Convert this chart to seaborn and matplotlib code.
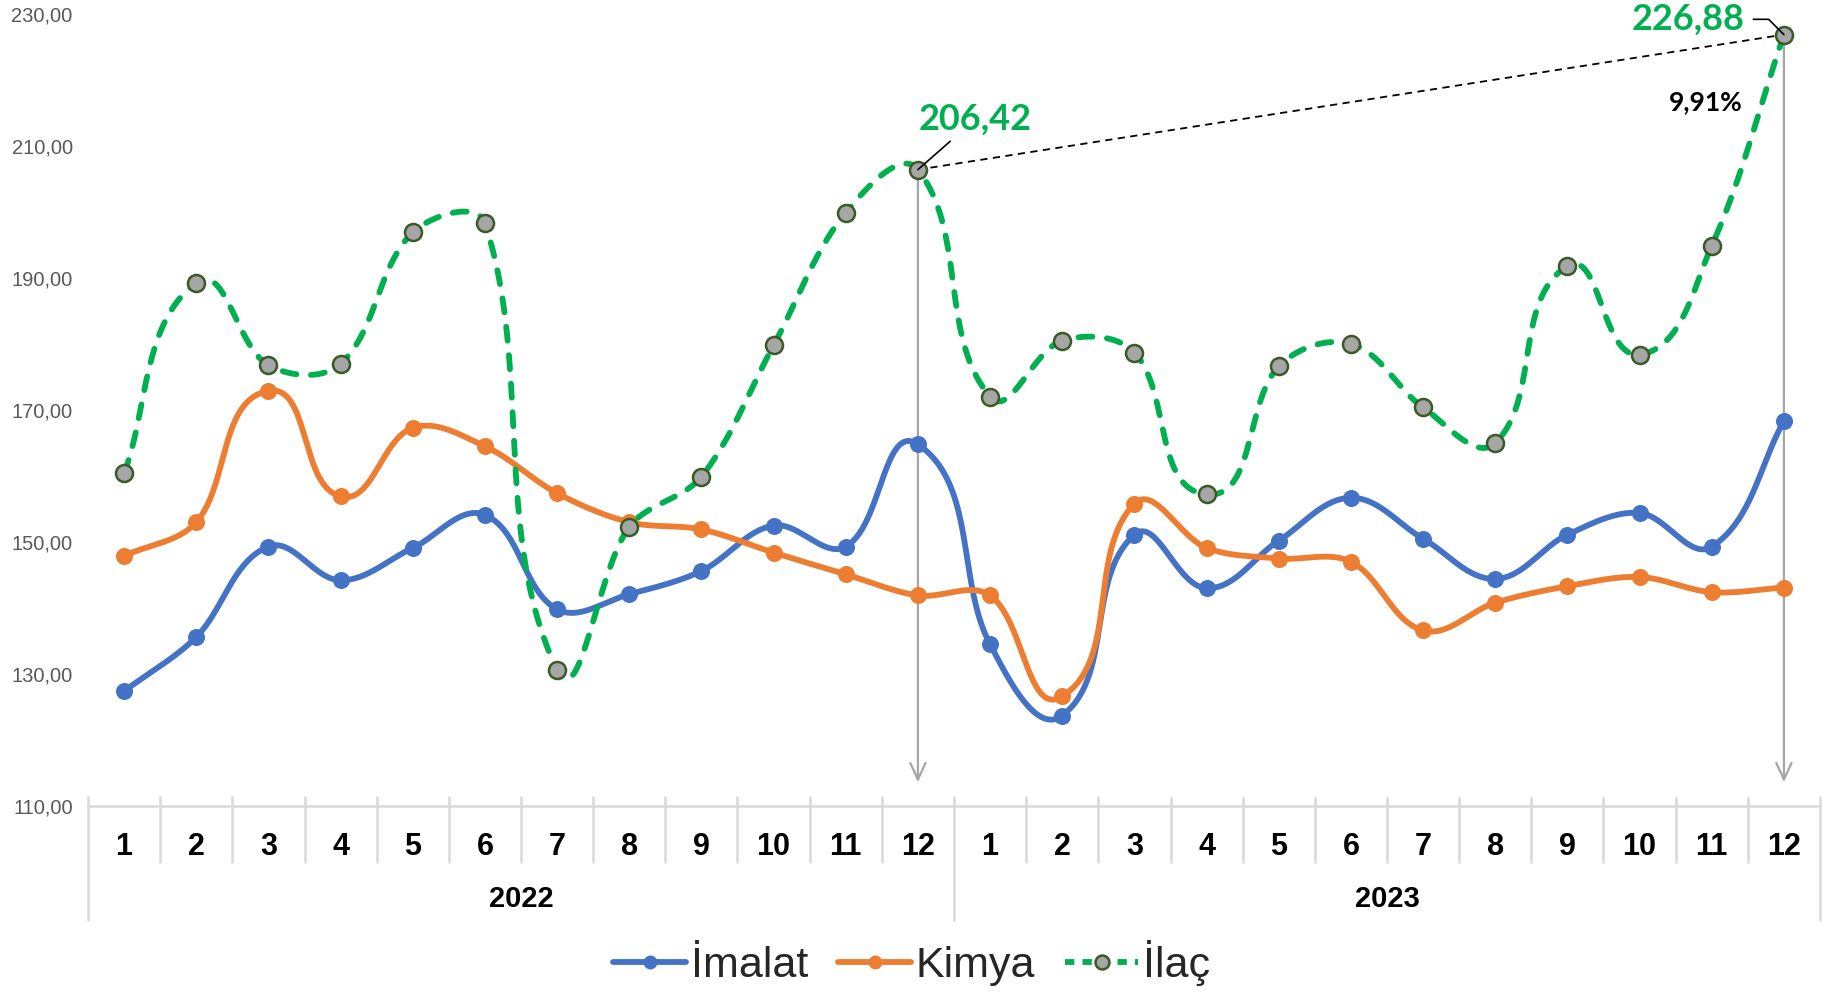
import numpy as np
import pandas as pd
import matplotlib
matplotlib.use("Agg")
import matplotlib.pyplot as plt
from matplotlib.lines import Line2D
from matplotlib.ticker import FuncFormatter
import seaborn as sns

# 2022 ve 2023 aylari
months = list(range(1, 13)) * 2
years = ["2022", "2023"]

imalat = [127.4, 135.6, 149.3, 144.2, 149.1, 154.1, 139.8, 142.1, 145.6, 152.5, 149.3, 164.8,
          134.5, 123.7, 151.1, 143.0, 150.2, 156.7, 150.5, 144.4, 151.1, 154.4, 149.3, 168.3]
kimya = [147.9, 153.0, 172.9, 156.9, 167.3, 164.5, 157.4, 153.0, 151.9, 148.4, 145.1, 141.9,
         141.9, 126.6, 155.8, 149.1, 147.5, 147.0, 136.6, 140.8, 143.3, 144.7, 142.4, 143.1]
ilac = [160.4, 189.3, 176.8, 177.0, 196.9, 198.3, 130.6, 152.3, 159.9, 179.8, 199.9, 206.42,
        172.0, 180.5, 178.7, 157.2, 176.6, 180.0, 170.4, 165.0, 191.8, 178.4, 194.9, 226.88]

series_names = ["İmalat", "Kimya", "İlaç"]
artis_label = "9,91%"

BLUE = "#4472C4"
ORANGE = "#ED7D31"
GREEN = "#00B050"
GRID = "#D9D9D9"


# Excel "duzgun cizgi" benzeri bezier egrisi (ekran olceginde)
def smooth(y, sx=72.17, sy=6.6, n=40):
    y = np.asarray(y, dtype=float)
    P = np.column_stack([np.arange(1, len(y) + 1) * sx, y * sy])
    ext = np.vstack([P[0], P, P[-1]])
    xs, ys = [], []
    t = np.linspace(0, 1, n, endpoint=False)[:, None]
    for i in range(len(y) - 1):
        p0, p1, p2, p3 = ext[i], ext[i + 1], ext[i + 2], ext[i + 3]
        seg = np.linalg.norm(p2 - p1)
        d1 = p2 - p0
        d2 = p3 - p1
        c1 = p1 + d1 / np.linalg.norm(d1) * seg / 3
        c2 = p2 - d2 / np.linalg.norm(d2) * seg / 3
        b = ((1 - t) ** 3) * p1 + 3 * ((1 - t) ** 2) * t * c1 + 3 * (1 - t) * t**2 * c2 + t**3 * p2
        xs.extend(b[:, 0] / sx)
        ys.extend(b[:, 1] / sy)
    xs.append(P[-1, 0] / sx)
    ys.append(P[-1, 1] / sy)
    return np.array(xs), np.array(ys)


sns.set_style("white")
plt.rcParams["font.family"] = ["Liberation Sans", "DejaVu Sans"]

fig = plt.figure(figsize=(18.23, 9.92), dpi=100)
ax = fig.add_axes([88 / 1823, 1 - 806 / 992, (1820 - 88) / 1823, (806 - 14) / 992])

x = np.arange(1, 25)
df = pd.DataFrame({"x": x, "İmalat": imalat, "Kimya": kimya, "İlaç": ilac})

# cizgiler
for name, col, z in [("İmalat", BLUE, 3), ("Kimya", ORANGE, 4)]:
    sx, sy = smooth(df[name])
    sns.lineplot(x=sx, y=sy, ax=ax, color=col, linewidth=4.2, zorder=z,
                 solid_capstyle="round", sort=False)
    sns.scatterplot(x=df["x"], y=df[name], ax=ax, color=col, s=150,
                    edgecolor=col, linewidth=0, zorder=z + 0.5)

sx, sy = smooth(df["İlaç"])
ax.plot(sx, sy, color=GREEN, linewidth=4.2, linestyle=(0, (2.4, 2.5)),
        dash_capstyle="round", zorder=5)
sns.scatterplot(x=df["x"], y=df["İlaç"], ax=ax, color="#A6A6A6", s=150,
                edgecolor="#3A5A28", linewidth=1.8, zorder=5.5)

# dikey oklar
for i in [11, 23]:
    ax.annotate("", xy=(x[i], 113.6), xytext=(x[i], ilac[i]),
                arrowprops=dict(arrowstyle="->,head_length=1.2,head_width=0.55",
                                color="#A6A6A6", lw=1.6, shrinkA=0, shrinkB=0),
                zorder=1)

# 12/2022 -> 12/2023 kesik cizgi
ax.plot([x[11], x[23]], [ilac[11], ilac[23]], color="black", lw=1.3,
        linestyle=(0, (4, 3)), zorder=2)

lbl_font = ["Lato", "DejaVu Sans"]
ax.annotate(f"{ilac[11]:.2f}".replace(".", ","), xy=(x[11], ilac[11]),
            xytext=(41, 36), textcoords="offset points", ha="center", va="center",
            fontsize=26, fontweight="bold", color=GREEN, family=lbl_font,
            arrowprops=dict(arrowstyle="-", color="black", lw=1.2,
                            shrinkA=2, shrinkB=0), zorder=6)
ax.annotate(f"{ilac[23]:.2f}".replace(".", ","), xy=(x[23], ilac[23]),
            xytext=(-69, 11), textcoords="offset points", ha="center", va="center",
            fontsize=26, fontweight="bold", color=GREEN, family=lbl_font,
            arrowprops=dict(arrowstyle="-", color="black", lw=1.2,
                            relpos=(1, 0.5), shrinkA=4, shrinkB=0,
                            connectionstyle="angle,angleA=0,angleB=135,rad=0"),
            zorder=6)
ax.text(22.92, 216.7, artis_label, ha="center", va="center",
        fontsize=19, fontweight="bold", color="black", family=lbl_font)

# eksenler
ax.set_xlim(0.5, 24.5)
ax.set_ylim(110, 230)
ax.set_yticks(np.arange(110, 231, 20))
ax.yaxis.set_major_formatter(FuncFormatter(lambda v, p: f"{v:.2f}".replace(".", ",")))
ax.tick_params(axis="y", length=0, labelsize=14.5, labelcolor="#595959", pad=11)
for s in ["left", "right", "top"]:
    ax.spines[s].set_visible(False)
ax.spines["bottom"].set_color(GRID)
ax.spines["bottom"].set_linewidth(1.8)

ax.set_xticks(x)
ax.set_xticklabels([str(m) for m in months], fontsize=22, fontweight="bold", color="black")
ax.tick_params(axis="x", direction="inout", length=10, width=1.5, color=GRID, pad=14)
ax.set_xlabel("")
ax.set_ylabel("")

trans = ax.get_xaxis_transform()
for b in np.arange(0.5, 25, 1):
    if b in (0.5, 12.5, 24.5):
        ax.plot([b, b], [0.0114, -0.144], transform=trans, color=GRID, lw=1.8, clip_on=False)
    else:
        ax.plot([b, b], [0.0114, -0.0707], transform=trans, color=GRID, lw=1.8, clip_on=False)
for k, yr in enumerate(years):
    ax.text(6.5 + 12 * k, -0.1174, yr, transform=trans, ha="center", va="center",
            fontsize=21, fontweight="bold", color="black")

# lejant
handles = [
    Line2D([], [], color=BLUE, lw=4.2, marker="o", markersize=10, markeredgewidth=0),
    Line2D([], [], color=ORANGE, lw=4.2, marker="o", markersize=10, markeredgewidth=0),
    Line2D([], [], color=GREEN, lw=4.2, linestyle=(0, (1.6, 1.4)), marker="o", markersize=10,
           markerfacecolor="#A6A6A6", markeredgecolor="#3A5A28", markeredgewidth=1.8),
]
fig.legend(handles, series_names, loc="center", bbox_to_anchor=(0.5, 1 - 963 / 992),
           ncol=3, frameon=False, fontsize=31, handlelength=1.7, handletextpad=0.1,
           columnspacing=0.7)

fig.savefig("out.png", dpi=100)
